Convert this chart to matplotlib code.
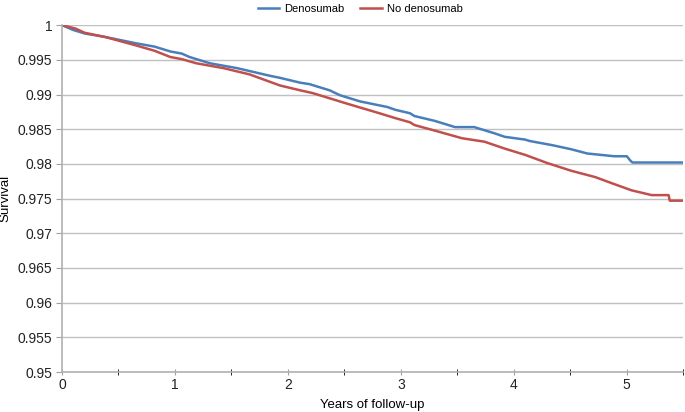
import matplotlib
matplotlib.use('Agg')
import matplotlib.pyplot as plt
from matplotlib.ticker import MultipleLocator

plt.rcParams['font.family'] = ['Liberation Sans', 'DejaVu Sans']

# Denosumab curve
t_deno = [0, 0.1, 0.2, 0.38, 0.5, 0.65, 0.82, 0.96, 1.06, 1.13, 1.31, 1.55, 1.84,
          1.93, 2.11, 2.19, 2.37, 2.46, 2.64, 2.88, 2.95, 3.08, 3.12, 3.30, 3.48,
          3.65, 3.83, 3.92, 4.10, 4.14, 4.34, 4.51, 4.65, 4.89, 5.0, 5.03, 5.05, 5.5]
s_deno = [1.0, 0.9993, 0.9988, 0.9983, 0.9979, 0.9974, 0.9969, 0.9962, 0.9959, 0.9954,
          0.9945, 0.9938, 0.9927, 0.9924, 0.9917, 0.9915, 0.9906, 0.9899, 0.9890, 0.9882,
          0.9878, 0.9873, 0.9869, 0.9862, 0.9853, 0.9853, 0.9844, 0.9839, 0.9835, 0.9833,
          0.9827, 0.9821, 0.9815, 0.9811, 0.9811, 0.9805, 0.9802, 0.9802]

# No denosumab curve
t_none = [0, 0.12, 0.2, 0.38, 0.65, 0.82, 0.96, 1.06, 1.19, 1.43, 1.66, 1.93, 2.11,
          2.22, 2.52, 2.81, 2.95, 3.08, 3.12, 3.30, 3.54, 3.74, 3.92, 4.10, 4.30,
          4.51, 4.72, 4.87, 5.04, 5.22, 5.37, 5.38, 5.5]
s_none = [1.0, 0.9995, 0.9989, 0.9983, 0.9971, 0.9963, 0.9954, 0.9951, 0.9945, 0.9938,
          0.9929, 0.9913, 0.9906, 0.9902, 0.9887, 0.9873, 0.9866, 0.9860, 0.9856, 0.9848,
          0.9837, 0.9832, 0.9822, 0.9813, 0.9801, 0.9790, 0.9781, 0.9772, 0.9762, 0.9755,
          0.9755, 0.9747, 0.9747]

y_ticks = [0.95, 0.955, 0.96, 0.965, 0.97, 0.975, 0.98, 0.985, 0.99, 0.995, 1]
y_labels = ['0.95', '0.955', '0.96', '0.965', '0.97', '0.975', '0.98', '0.985', '0.99', '0.995', '1']

fig = plt.figure(figsize=(6.85, 4.12), dpi=100)
ax = fig.add_axes([0.0905, 0.097, 0.907, 0.842])

ax.plot(t_deno, s_deno, color='#4a7ebb', lw=1.8, label='Denosumab')
ax.plot(t_none, s_none, color='#c0504d', lw=1.8, label='No denosumab')

ax.set_xlim(0, 5.5)
ax.set_ylim(0.95, 1.0)
ax.set_yticks(y_ticks)
ax.set_yticklabels(y_labels)
ax.xaxis.set_major_locator(MultipleLocator(1))
ax.xaxis.set_minor_locator(MultipleLocator(0.5))

ax.grid(axis='y', color='#c0c0c0', lw=1)
ax.set_axisbelow(True)
for s in ['top', 'right']:
    ax.spines[s].set_visible(False)
for s in ['left', 'bottom']:
    ax.spines[s].set_color('#b0b0b0')
    ax.spines[s].set_linewidth(1.2)

ax.tick_params(axis='both', labelsize=10, colors='#a0a0a0', labelcolor='#222222')
ax.tick_params(axis='x', which='both', direction='inout', length=4, pad=2)
ax.tick_params(axis='y', direction='out', length=4, pad=3)

ax.set_xlabel('Years of follow-up', fontsize=9.5, labelpad=5)
ax.set_ylabel('Survival', fontsize=9.5)
ax.yaxis.set_label_coords(-0.082, 0.5)

ax.legend(loc='lower center', bbox_to_anchor=(0.48, 1.03), ncol=2, frameon=False,
          fontsize=8, handlelength=1.9, handletextpad=0.45, columnspacing=1.45,
          borderaxespad=0.0, borderpad=0.1)

fig.savefig('out.png', dpi=100)
